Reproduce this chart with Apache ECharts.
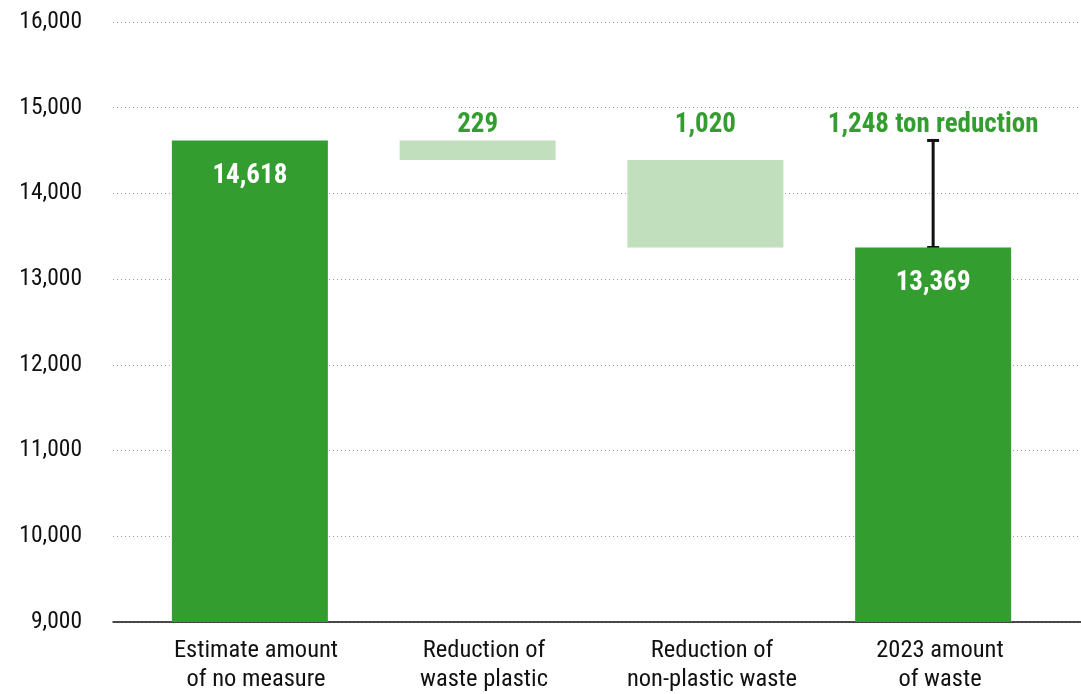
<!DOCTYPE html>
<html>
<head>
<meta charset="utf-8">
<script src="https://cdn.jsdelivr.net/npm/echarts@6/dist/echarts.min.js"></script>
<style>
html,body{margin:0;padding:0;background:#fff;}
#chart{width:1081px;height:694px;}
</style>
</head>
<body>
<div id="chart"></div>
<script>
// ---- data ----
const categories = ['Estimate amount\nof no measure', 'Reduction of\nwaste plastic', 'Reduction of\nnon-plastic waste', '2023 amount\nof waste'];
const startTotal = 14618;          // estimate amount with no measure
const reductions = [229, 1020];    // plastic, non-plastic
const endTotal = 13369;            // 2023 amount
const totalReduction = 1248;       // printed total reduction
const reductionSuffix = ' ton reduction';
const yMin = 9000, yMax = 16000, yStep = 1000;

// ---- derived ----
const values = [startTotal, reductions[0], reductions[1], endTotal];
const bases = [0, startTotal - reductions[0], startTotal - reductions[0] - reductions[1], 0];
const isTotal = [true, false, false, true];
const fmt = v => v.toLocaleString('en-US');

const FONT = "'Roboto Condensed','Liberation Sans Narrow','Arial Narrow',Roboto,sans-serif";
const DARK = '#339e2f', LIGHT = '#c1dfbc';

const chart = echarts.init(document.getElementById('chart'), null, {renderer: 'canvas'});
const hiddenY = i => ({type: 'value', gridIndex: i, min: yMin, max: yMax, interval: yStep, show: false});

chart.setOption({
  animation: false,
  grid: [
    {left: 113, right: 0, top: 22, bottom: 72},
    {left: 136, right: 34, top: 22, bottom: 72},
    {left: 142, right: 27, top: 22, bottom: 72}
  ],
  xAxis: [
    {type: 'value', gridIndex: 0, min: 0, max: 1, axisLabel: {show: false}, axisTick: {show: false}, splitLine: {show: false},
     axisLine: {show: true, lineStyle: {color: '#111', width: 1.5}}},
    {type: 'category', gridIndex: 1, data: categories, show: false},
    {type: 'category', gridIndex: 2, data: categories, axisLine: {show: false}, axisTick: {show: false},
     axisLabel: {margin: 16, fontFamily: FONT, fontSize: 24.5, color: '#111', lineHeight: 29}}
  ],
  yAxis: [
    {type: 'value', gridIndex: 0, min: yMin, max: yMax, interval: yStep,
     axisLine: {show: false}, axisTick: {show: false},
     axisLabel: {margin: 31, fontFamily: FONT, fontSize: 23.5, color: '#111', formatter: v => fmt(v)},
     splitLine: {show: true, lineStyle: {color: '#999', type: [1, 3], width: 1}}},
    hiddenY(1), hiddenY(2)
  ],
  series: [
    {type: 'bar', xAxisIndex: 1, yAxisIndex: 1, stack: 'w', data: bases, barWidth: 156,
     itemStyle: {color: 'transparent'}, silent: true},
    {type: 'bar', xAxisIndex: 1, yAxisIndex: 1, stack: 'w', data: values, barWidth: 156,
     itemStyle: {color: p => isTotal[p.dataIndex] ? DARK : LIGHT},
     label: {show: true, position: 'insideTop', distance: 22, fontFamily: FONT, fontWeight: 'bold', fontSize: 27, color: '#fff',
       formatter: p => isTotal[p.dataIndex] ? fmt(p.value) : ''}},
    {type: 'scatter', xAxisIndex: 1, yAxisIndex: 1, symbolSize: 0, itemStyle: {opacity: 1},
     data: [[1, startTotal], [2, startTotal], [3, startTotal]],
     label: {show: true, position: 'top', distance: 2, fontFamily: FONT, fontWeight: 'bold', fontSize: 27, color: DARK,
       formatter: p => p.dataIndex === 0 ? fmt(reductions[0]) : p.dataIndex === 1 ? fmt(reductions[1]) : fmt(totalReduction) + reductionSuffix}},
    {type: 'custom', xAxisIndex: 1, yAxisIndex: 1, data: [[3, endTotal, startTotal]],
     encode: {x: 0, y: [1, 2]},
     renderItem: (params, api) => {
       const lo = api.coord([api.value(0), api.value(1)]);
       const hi = api.coord([api.value(0), api.value(2)]);
       const cap = 6;
       const st = {stroke: '#111', lineWidth: 3};
       return {type: 'group', children: [
         {type: 'line', shape: {x1: lo[0], y1: lo[1], x2: hi[0], y2: hi[1]}, style: st},
         {type: 'line', shape: {x1: lo[0] - cap, y1: lo[1], x2: lo[0] + cap, y2: lo[1]}, style: st},
         {type: 'line', shape: {x1: hi[0] - cap, y1: hi[1], x2: hi[0] + cap, y2: hi[1]}, style: st}
       ]};
     }}
  ]
});
</script>
</body>
</html>
